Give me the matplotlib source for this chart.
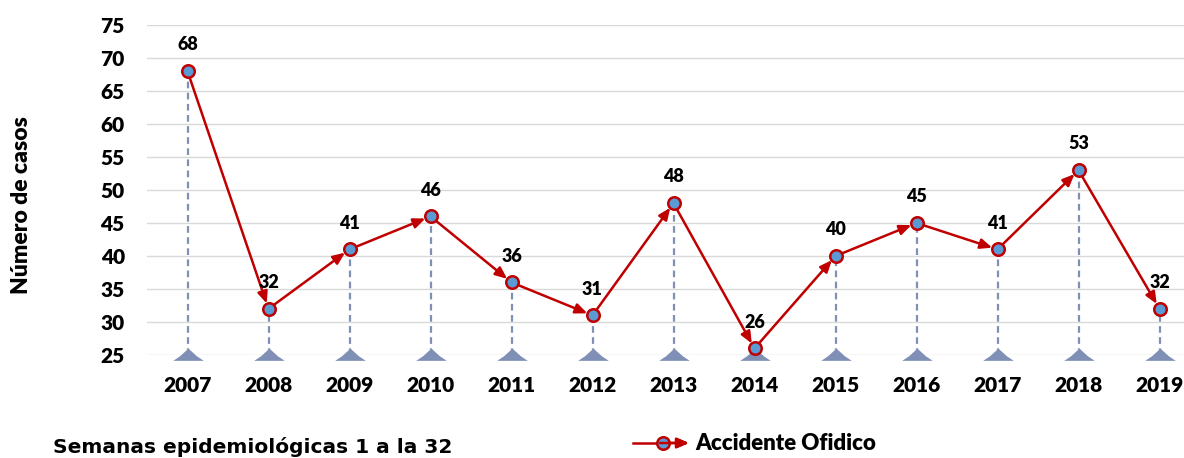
import matplotlib
matplotlib.use("Agg")
import matplotlib.pyplot as plt
from matplotlib.lines import Line2D

years = ["2007", "2008", "2009", "2010", "2011", "2012", "2013",
         "2014", "2015", "2016", "2017", "2018", "2019"]
cases = [68, 32, 41, 46, 36, 31, 48, 26, 40, 45, 41, 53, 32]
y_ticks = [25, 30, 35, 40, 45, 50, 55, 60, 65, 70, 75]
series_name = "Accidente Ofidico"
ylabel = "Número de casos"
note = "Semanas epidemiológicas 1 a la 32"

FONT = "Lato"
WEIGHT = "heavy"
RED = "#C00000"
BLUE = "#5B9BD5"
STEM = "#7F8FB5"

fig = plt.figure(figsize=(11.84, 4.58), dpi=100)
W, H = 1184, 458
left, right, bottom, top = 147, 1200, 355, 25
ax = fig.add_axes([left / W, (H - bottom) / H, (right - left) / W, (bottom - top) / H])

x = list(range(len(years)))
ymin = y_ticks[0]

ax.set_ylim(ymin, y_ticks[-1])
ax.set_xlim(-0.5, len(years) - 0.5)
ax.set_yticks(y_ticks)
ax.yaxis.grid(True, color="#D9D9D9", linewidth=1)
ax.set_axisbelow(True)
for s in ax.spines.values():
    s.set_visible(False)
ax.tick_params(axis="both", length=0)
ax.tick_params(axis="y", pad=16)
ax.tick_params(axis="x", pad=15)
ax.set_xticks(x)
ax.set_xticklabels(years)
for lab in ax.get_xticklabels() + ax.get_yticklabels():
    lab.set_fontfamily(FONT)
    lab.set_fontweight(WEIGHT)
    lab.set_fontsize(15)

# drop lines
ax.vlines(x, ymin, cases, colors=STEM, linestyles=(0, (3, 2)), linewidth=1.6, zorder=2)
tri = [(-1.0, -0.35), (-0.55, -0.05), (0.0, 0.45), (0.55, -0.05), (1.0, -0.35), (-1.0, -0.35)]
ax.plot(x, [ymin] * len(x), linestyle="none", marker=tri, markersize=22,
        color=STEM, markeredgewidth=0, clip_on=False, zorder=3)

# segments with arrowheads
for i in range(len(x) - 1):
    ax.annotate("", xy=(x[i + 1], cases[i + 1]), xytext=(x[i], cases[i]),
                arrowprops=dict(arrowstyle="-|>,head_length=0.7,head_width=0.3",
                                color=RED, linewidth=1.8, shrinkA=0, shrinkB=4),
                zorder=4)

ax.plot(x, cases, linestyle="none", marker="o", markersize=9,
        markerfacecolor=BLUE, markeredgecolor=RED, markeredgewidth=1.8, zorder=5)

for xi, v in zip(x, cases):
    ax.annotate(str(v), (xi, v), xytext=(0, 15), textcoords="offset points",
                ha="center", va="baseline", fontsize=13, fontweight=WEIGHT,
                family=FONT, zorder=6)

fig.text(22 / W, (H - 205) / H, ylabel, rotation=90, ha="center", va="center",
         fontsize=16.5, fontweight=WEIGHT, family=FONT)
fig.text(53 / W, (H - 447) / H, note, ha="left", va="center",
         fontsize=14.5, fontweight="bold", family="DejaVu Sans")

# legend key
ly = H - 443
fig.add_artist(Line2D([633 / W, 660 / W], [ly / H, ly / H], color=RED, linewidth=1.8))
fig.add_artist(plt.annotate("", xy=(689, ly), xytext=(660, ly), xycoords="figure pixels",
                            textcoords="figure pixels",
                            arrowprops=dict(arrowstyle="-|>,head_length=0.7,head_width=0.3",
                                            color=RED, linewidth=1.8, shrinkA=0, shrinkB=0)))
fig.add_artist(Line2D([663 / W], [ly / H], marker="o", markersize=9,
                      markerfacecolor=BLUE, markeredgecolor=RED, markeredgewidth=1.8))
fig.text(695 / W, ly / H, series_name, ha="left", va="center",
         fontsize=16, fontweight=WEIGHT, family=FONT)

fig.savefig("out.png", dpi=100)
